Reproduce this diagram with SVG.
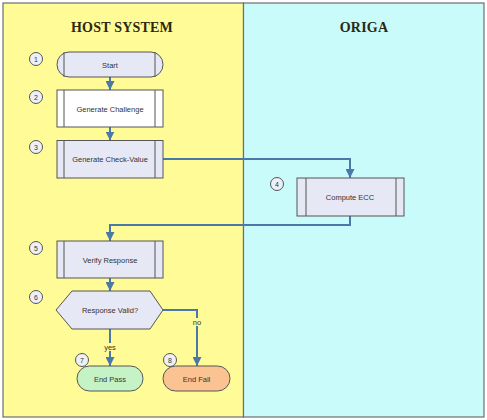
<svg xmlns="http://www.w3.org/2000/svg" width="487" height="420" viewBox="0 0 487 420">
<style>
.lane{stroke:#6e6e6e;stroke-width:1.2}
.title{font-family:"Liberation Serif",serif;font-weight:bold;font-size:14px;fill:#2b2812;text-anchor:middle;letter-spacing:0.2px}
.box{fill:#e6e9f5;stroke:#555;stroke-width:1}
.inner{stroke:#555;stroke-width:1;fill:none}
.lbl{font-family:"Liberation Sans",Arial,sans-serif;font-size:7.5px;fill:#333;text-anchor:middle}
.num{fill:#eef0f8;stroke:#555;stroke-width:1}
.numt{font-family:"Liberation Sans",Arial,sans-serif;font-size:7px;fill:#333;text-anchor:middle}
.conn{stroke:#4a78a8;stroke-width:2;fill:none;marker-end:url(#ah)}
.cl{font-family:"Liberation Sans",Arial,sans-serif;font-size:7.5px;fill:#333;text-anchor:middle}
</style>
<defs>
<marker id="ah" viewBox="0 0 10 10" refX="10" refY="5" markerWidth="4.5" markerHeight="4.5" orient="auto" markerUnits="strokeWidth">
<path d="M0,0 L10,5 L0,10 z" fill="#4a78a8"/>
</marker>
</defs>
<rect width="487" height="420" fill="#ffffff"/>
<g id="lane-host">
<rect class="lane" x="3" y="3" width="240.5" height="414" fill="#fffb96"/>
<text class="title" x="122" y="32">HOST SYSTEM</text>
</g>
<g id="lane-origa">
<rect class="lane" x="243.5" y="3" width="240.5" height="414" fill="#c9fbfb"/>
<text class="title" x="364" y="32">ORIGA</text>
</g>
<g id="connectors">
<path class="conn" d="M110,77 V90"/>
<path class="conn" d="M110,127 V140.5"/>
<path class="conn" d="M163,159 H350 V178"/>
<path class="conn" d="M350,216 V225 H110 V241"/>
<path class="conn" d="M110,278 V291"/>
<path class="conn" d="M110,329 V366"/>
<path class="conn" d="M163,310 H197 V366"/>
<rect x="104" y="343" width="12" height="8" fill="#fffb96"/>
<text class="cl" x="110" y="350">yes</text>
<rect x="192" y="318" width="10" height="8" fill="#fffb96"/>
<text class="cl" x="197" y="325">no</text>
</g>
<g id="n1">
<circle class="num" cx="36" cy="59" r="6.5"/><text class="numt" x="36" y="61.5">1</text>
<path class="box" d="M69,52 H151 A12,12.5 0 0 1 151,77 H69 A12,12.5 0 0 1 69,52 z"/>
<path class="inner" d="M64,52 V77 M155,52 V77"/>
<text class="lbl" x="110" y="67.5">Start</text>
</g>
<g id="n2">
<circle class="num" cx="36" cy="97" r="6.5"/><text class="numt" x="36" y="99.5">2</text>
<rect class="box" x="57" y="90" width="106" height="37" style="fill:#ffffff"/>
<path class="inner" d="M64,90 V127 M155,90 V127"/>
<text class="lbl" x="110" y="111.5">Generate Challenge</text>
</g>
<g id="n3">
<circle class="num" cx="36" cy="147" r="6.5"/><text class="numt" x="36" y="149.5">3</text>
<rect class="box" x="57" y="140.5" width="106" height="37.5"/>
<path class="inner" d="M64,140.5 V178 M155,140.5 V178"/>
<text class="lbl" x="110" y="162">Generate Check-Value</text>
</g>
<g id="n4">
<circle class="num" cx="277" cy="184" r="6.5"/><text class="numt" x="277" y="186.5">4</text>
<rect class="box" x="297" y="178" width="107" height="38"/>
<path class="inner" d="M306,178 V216 M396,178 V216"/>
<text class="lbl" x="350" y="199.5">Compute ECC</text>
</g>
<g id="n5">
<circle class="num" cx="36" cy="248" r="6.5"/><text class="numt" x="36" y="250.5">5</text>
<rect class="box" x="57" y="241" width="106" height="37"/>
<path class="inner" d="M64,241 V278 M155,241 V278"/>
<text class="lbl" x="110" y="262.5">Verify Response</text>
</g>
<g id="n6">
<circle class="num" cx="36" cy="297" r="6.5"/><text class="numt" x="36" y="299.5">6</text>
<path class="box" d="M56,310 L72,291 H150 L163,310 L150,329 H72 z"/>
<text class="lbl" x="110" y="312.5">Response Valid?</text>
</g>
<g id="n7">
<circle class="num" cx="82" cy="360" r="6.5"/><text class="numt" x="82" y="362.5">7</text>
<path d="M89.5,366 H130.5 A12.5,12.5 0 0 1 130.5,391 H89.5 A12.5,12.5 0 0 1 89.5,366 z" fill="#c6f3c6" stroke="#555" stroke-width="1"/>
<text class="lbl" x="110" y="381.5">End Pass</text>
</g>
<g id="n8">
<circle class="num" cx="170" cy="360" r="6.5"/><text class="numt" x="170" y="362.5">8</text>
<path d="M175.5,366 H217.5 A12.5,12.5 0 0 1 217.5,391 H175.5 A12.5,12.5 0 0 1 175.5,366 z" fill="#fbc391" stroke="#555" stroke-width="1"/>
<text class="lbl" x="196.5" y="381.5">End Fail</text>
</g>
</svg>
